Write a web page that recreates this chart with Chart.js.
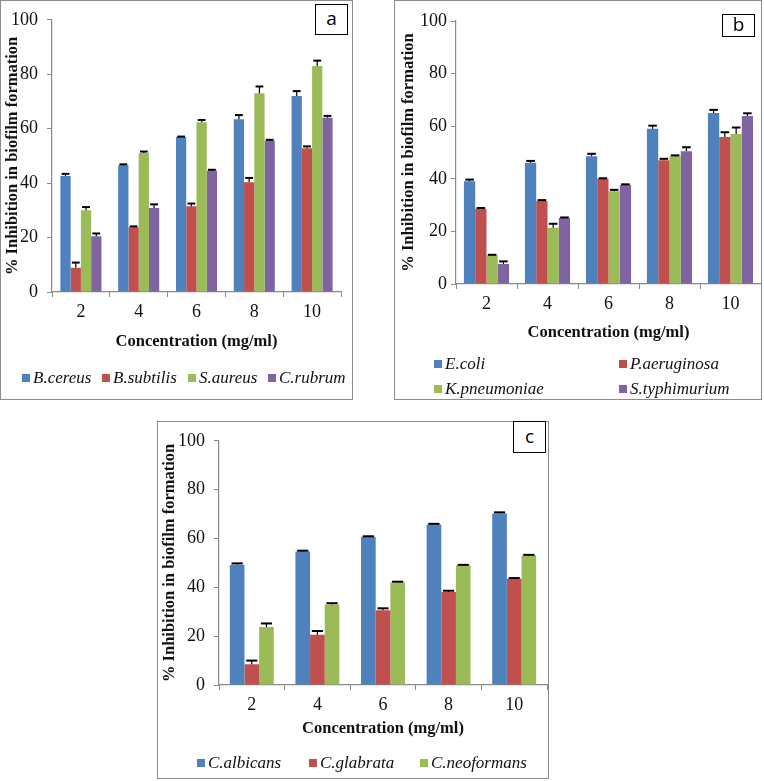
<!DOCTYPE html>
<html>
<head>
<meta charset="utf-8">
<script src="https://cdn.jsdelivr.net/npm/chart.js@4/dist/chart.umd.min.js"></script>
<style>
  body { margin: 0; background: #fff; }
  .panel { position: absolute; }
  .panel canvas { position: absolute; left: 0; top: 0; }
  .frame { position: absolute; left: 0; top: 0; right: 0; bottom: 0; border: 1.5px solid #8c8c8c; pointer-events: none; }
  .tag { position: absolute; border: 1.5px solid #000; background: #fff; box-sizing: border-box;
         font: 19px "Open Sans", "Liberation Sans", sans-serif; text-align: center; }
  .leg { position: absolute; font: italic 17px "Liberation Serif", serif; color: #111; line-height: 20px; white-space: nowrap; }
  .leg span { display: inline-block; width: 8px; height: 8px; margin-right: 3px; vertical-align: 1px; }
</style>
</head>
<body>
<div class="panel" id="pa" style="left:0;top:0;width:353px;height:400px"><canvas id="chartA" width="353" height="400"></canvas><div class="frame"></div></div>
<div class="panel" id="pb" style="left:394px;top:0;width:368px;height:400px"><canvas id="chartB" width="368" height="400"></canvas><div class="frame"></div></div>
<div class="panel" id="pc" style="left:157px;top:421px;width:392px;height:358px"><canvas id="chartC" width="392" height="358"></canvas><div class="frame"></div></div>

<script>
// concentration (mg/ml)
const concentrations = ['2', '4', '6', '8', '10'];
const yTicks = [0, 20, 40, 60, 80, 100];
const colors = ['#4F81BD', '#C0504D', '#9BBB59', '#8064A2'];

// panel a - gram positive
const namesA = ['B.cereus', 'B.subtilis', 'S.aureus', 'C.rubrum'];
const bCereus = [42.6, 46.6, 56.9, 63.5, 72.0];
const bSubtilis = [8.9, 23.8, 31.5, 40.3, 52.8];
const sAureus = [30.0, 51.1, 62.4, 73.0, 83.0];
const cRubrum = [20.5, 30.9, 44.6, 55.6, 64.0];
const bCereusErr = [0.8, 0.3, 0.2, 1.5, 1.8];
const bSubtilisErr = [1.9, 0.3, 1.0, 1.6, 0.7];
const sAureusErr = [1.2, 0.5, 0.8, 2.5, 2.0];
const cRubrumErr = [1.0, 1.3, 0.3, 0.3, 0.7];

// panel b - gram negative
const namesB = ['E.coli', 'P.aeruginosa', 'K.pneumoniae', 'S.typhimurium'];
const eColi = [39.1, 46.1, 48.6, 59.0, 65.0];
const pAeruginosa = [28.6, 31.6, 40.0, 47.1, 55.9];
const kPneumoniae = [10.9, 21.4, 35.3, 48.6, 57.0];
const sTyphimurium = [7.6, 25.1, 37.6, 50.5, 63.9];
const eColiErr = [0.6, 0.7, 0.9, 1.2, 1.2];
const pAeruginosaErr = [0.3, 0.3, 0.2, 0.5, 1.8];
const kPneumoniaeErr = [0.2, 1.5, 0.5, 0.3, 2.5];
const sTyphimuriumErr = [1.0, 0.2, 0.3, 1.5, 1.0];

// panel c - fungi
const namesC = ['C.albicans', 'C.glabrata', 'C.neoformans'];
const cAlbicans = [49.2, 54.7, 60.7, 65.7, 70.2];
const cGlabrata = [8.5, 20.6, 30.6, 38.1, 43.5];
const cNeoformans = [23.7, 33.0, 42.1, 49.0, 53.1];
const cAlbicansErr = [0.6, 0.3, 0.2, 0.3, 0.5];
const cGlabrataErr = [1.5, 1.5, 0.8, 0.5, 0.3];
const cNeoformansErr = [1.5, 0.5, 0.2, 0.2, 0.2];

const serif = '"Liberation Serif", "Times New Roman", serif';
const axisGray = '#898989';

// only the plus side of the error bar is shown, like in the figure
const errorBars = {
  id: 'errorBars',
  afterDatasetsDraw(chart) {
    const ctx = chart.ctx;
    const y = chart.scales.y;
    chart.data.datasets.forEach(function (ds, i) {
      const meta = chart.getDatasetMeta(i);
      meta.data.forEach(function (bar, j) {
        const top = y.getPixelForValue(ds.data[j] + ds.errors[j]);
        const half = bar.width * 0.38;
        ctx.save();
        ctx.strokeStyle = '#000';
        ctx.lineWidth = 1.2;
        ctx.beginPath();
        ctx.moveTo(bar.x, bar.y);
        ctx.lineTo(bar.x, top);
        ctx.stroke();
        ctx.lineWidth = 2;
        ctx.beginPath();
        ctx.moveTo(bar.x - half, top);
        ctx.lineTo(bar.x + half, top);
        ctx.stroke();
        ctx.restore();
      });
    });
  }
};

function makeChart(id, names, values, errors, cfg) {
  const datasets = names.map(function (n, i) {
    return {
      label: n,
      data: values[i],
      errors: errors[i],
      backgroundColor: colors[i],
      borderWidth: 0,
      barPercentage: 1,
      categoryPercentage: cfg.catPct
    };
  });
  return new Chart(document.getElementById(id), {
    type: 'bar',
    data: { labels: concentrations, datasets: datasets },
    plugins: [errorBars],
    options: {
      responsive: false,
      animation: false,
      layout: { padding: { left: 0, top: cfg.top, right: cfg.right, bottom: cfg.bottom } },
      plugins: { legend: { display: false }, tooltip: { enabled: false } },
      scales: {
        x: {
          grid: { offset: true, drawOnChartArea: false, tickLength: 5, color: axisGray },
          border: { color: axisGray, width: 1.2 },
          ticks: { font: { family: serif, size: 18 }, color: '#111', padding: cfg.xPad },
          title: { display: true, text: 'Concentration (mg/ml)', color: '#111',
                   font: { family: serif, size: 16.5, weight: 'bold' }, padding: { top: 0, bottom: 0 } },
          afterFit: function (s) { s.height = cfg.xHeight; }
        },
        y: {
          min: 0, max: 100,
          afterBuildTicks: function (s) { s.ticks = yTicks.map(function (v) { return { value: v }; }); },
          grid: { drawOnChartArea: false, tickLength: 5, color: axisGray },
          border: { color: axisGray, width: 1.2 },
          ticks: { font: { family: serif, size: 18 }, color: '#111', padding: cfg.yPad },
          title: { display: true, text: '% Inhibition in biofilm formation', color: '#111',
                   font: { family: serif, size: 16.5, weight: 'bold' }, padding: { top: cfg.titleX - 10, bottom: 0 } },
          afterFit: function (s) { s.width = cfg.yWidth; }
        }
      }
    }
  });
}

makeChart('chartA', namesA, [bCereus, bSubtilis, sAureus, cRubrum],
  [bCereusErr, bSubtilisErr, sAureusErr, cRubrumErr],
  { catPct: 0.71, top: 19, right: 12, bottom: 48, xHeight: 60, xPad: 4, yWidth: 52, yPad: 9, titleX: 13 });

makeChart('chartB', namesB, [eColi, pAeruginosa, kPneumoniae, sTyphimurium],
  [eColiErr, pAeruginosaErr, kPneumoniaeErr, sTyphimuriumErr],
  { catPct: 0.74, top: 21, right: 1, bottom: 57, xHeight: 59, xPad: 4, yWidth: 62, yPad: 4, titleX: 15 });

makeChart('chartC', namesC, [cAlbicans, cGlabrata, cNeoformans],
  [cAlbicansErr, cGlabrataErr, cNeoformansErr],
  { catPct: 0.67, top: 18, right: 2, bottom: 40, xHeight: 54, xPad: 4, yWidth: 62, yPad: 9, titleX: 13 });

// legends and panel letters
function addLegend(panelId, names, spots) {
  const panel = document.getElementById(panelId);
  names.forEach(function (n, i) {
    const d = document.createElement('div');
    d.className = 'leg';
    d.style.left = spots[i][0] + 'px';
    d.style.top = (spots[i][1] - 10) + 'px';
    d.innerHTML = '<span style="background:' + colors[i] + '"></span>' + n;
    panel.appendChild(d);
  });
}
addLegend('pa', namesA, [[22, 378], [102, 378], [188, 378], [268, 378]]);
addLegend('pb', namesB, [[40, 364], [225, 364], [40, 389], [225, 389]]);
addLegend('pc', namesC, [[40, 342], [152, 342], [263, 342]]);

function addTag(panelId, letter, x, y, w, h) {
  const t = document.createElement('div');
  t.className = 'tag';
  t.textContent = letter;
  t.style.cssText = 'left:' + x + 'px;top:' + y + 'px;width:' + w + 'px;height:' + h + 'px;line-height:' + (h - 4) + 'px';
  document.getElementById(panelId).appendChild(t);
}
addTag('pa', 'a', 315, 4, 33, 31);
addTag('pb', 'b', 328, 14, 33, 23);
addTag('pc', 'c', 356, 0, 33, 32);
</script>
</body>
</html>
